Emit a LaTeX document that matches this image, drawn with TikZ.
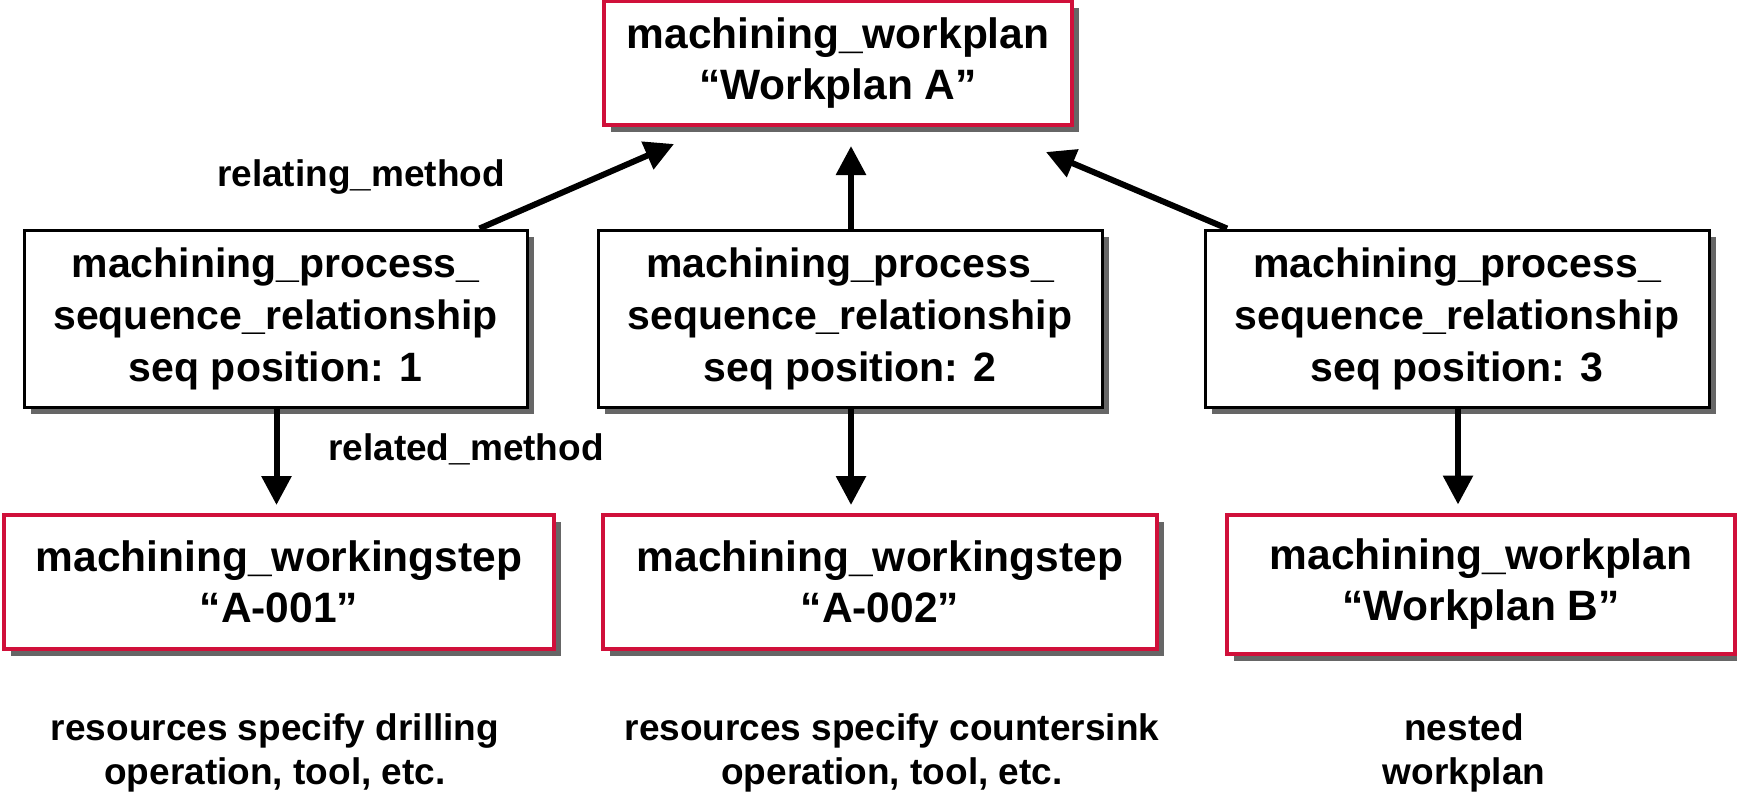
\documentclass[tikz,border=0pt]{standalone}
\usepackage{fontspec}
\setmainfont{Liberation Sans}
\usetikzlibrary{shadows,arrows.meta}
\definecolor{boxred}{RGB}{208,16,58}
\begin{document}
\begin{tikzpicture}[x=1pt,y=-1pt,
  box/.style={draw=black,line width=3pt,fill=white,align=center,inner sep=0pt,
    font=\bfseries\fontsize{41}{52}\selectfont,
    drop shadow={shadow xshift=7pt,shadow yshift=-7pt,fill=black!60,opacity=1}},
  redbox/.style={box,draw=boxred,line width=4pt,font=\bfseries\fontsize{42.5}{51}\selectfont},
  lbl/.style={font=\bfseries\fontsize{37}{44}\selectfont,align=center,inner sep=0pt},
  arr/.style={line width=6pt,-{Triangle[length=29pt,width=29pt]}}]
\useasboundingbox (0,0) rectangle (1737,793);

\node[redbox,minimum width=468pt,minimum height=124pt] (top) at (838,63) {machining\_workplan\\“Workplan A”};

\node[box,minimum width=503pt,minimum height=177pt] (m1) at (275.5,318.5) {machining\_process\_\\sequence\_relationship\\seq position: 1};
\node[box,minimum width=504pt,minimum height=177pt] (m2) at (850,318.5) {machining\_process\_\\sequence\_relationship\\seq position: 2};
\node[box,minimum width=504pt,minimum height=177pt] (m3) at (1457,318.5) {machining\_process\_\\sequence\_relationship\\seq position: 3};

\node[redbox,minimum width=550pt,minimum height=134pt] (b1) at (279,582) {machining\_workingstep\\“A-001”};
\node[redbox,minimum width=554pt,minimum height=134pt] (b2) at (880,582) {machining\_workingstep\\“A-002”};
\node[redbox,minimum width=508pt,minimum height=139pt] (b3) at (1481,584) {machining\_workplan\\“Workplan B”};

\node[lbl] (rel1) at (361,177) {relating\_method};
\node[lbl] (rel2) at (466,449) {related\_method};

\node[lbl] (n1) at (275,753) {resources specify drilling\\operation, tool, etc.};
\node[lbl] (n2) at (892,753) {resources specify countersink\\operation, tool, etc.};
\node[lbl] (n3) at (1464,753) {nested\\workplan};

\draw[arr] ([xshift=204pt]m1.north) -- ([xshift=-164pt,yshift=-17pt]top.south);
\draw[arr] ([xshift=1pt]m2.north) -- ([xshift=13pt,yshift=-19pt]top.south);
\draw[arr] ([xshift=-230pt]m3.north) -- ([xshift=208pt,yshift=-25pt]top.south);

\draw[arr,shorten >=8pt] ([xshift=1pt]m1.south) -- ([xshift=1pt]m1.south |- b1.north);
\draw[arr,shorten >=8pt] ([xshift=1pt]m2.south) -- ([xshift=1pt]m2.south |- b2.north);
\draw[arr,shorten >=8pt] ([xshift=1pt]m3.south) -- ([xshift=1pt]m3.south |- b3.north);
\end{tikzpicture}
\end{document}
